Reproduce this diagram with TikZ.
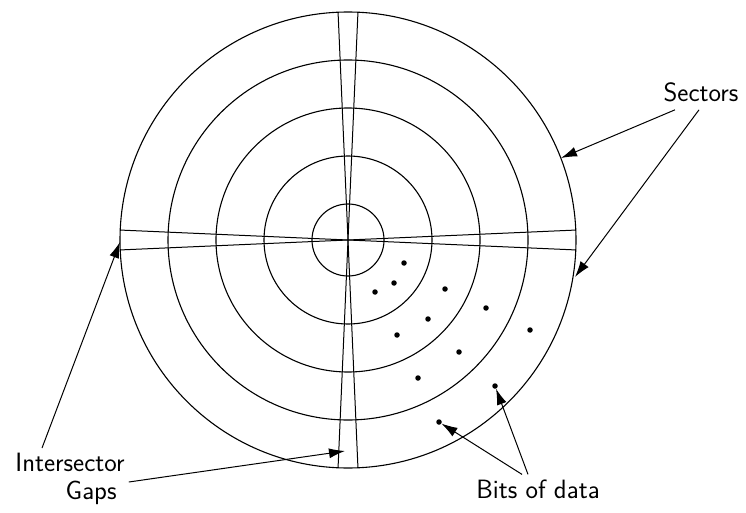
\documentclass[tikz,border=0pt]{standalone}
\usepackage{tikz}
\usetikzlibrary{arrows.meta,calc,positioning}
\tikzset{
  track/.style={draw=black,line width=1.1pt},
  gapline/.style={draw=black,line width=1pt},
  bit/.style={circle,fill=black,inner sep=0pt,minimum size=5.5pt},
  callout/.style={-{Latex[length=16pt,width=10pt]},line width=1pt},
  lab/.style={font=\sffamily\fontsize{26.5}{28}\selectfont,align=center,inner sep=1pt}
}

\begin{document}
\begin{tikzpicture}[x=1pt,y=-1pt]
  \useasboundingbox (0,0) rectangle (746,513);
  \coordinate (ctr) at (348,240);
  % tracks
  \foreach \r in {36,84,132,180,228}
    \draw[track] (ctr) circle[radius=\r];
  % intersector gaps
  \foreach \a in {2.5,-2.5,87.5,92.5}
    \draw[gapline] ($(ctr)+(\a:228)$) -- ($(ctr)+(\a+180:228)$);
  % bits
  \foreach \p [count=\i] in {(404,263),(394,283),(375,292),(445,289),
      (486,308),(428,319),(530,330),(397,335),(459,352),(418,378),
      (495,386),(439,422)}
    \node[bit] (b\i) at \p {};

  \coordinate (sec1) at (561,158);
  \coordinate (sec2) at (575,277);
  \coordinate (gap1) at (120,242);
  \coordinate (gap2) at (345,451);

  \node[lab] (sectors) at (701,92) {Sectors};
  \draw[callout] ($(sectors.south)+(-26,7)$) -- (sec1);
  \draw[callout] ($(sectors.south)+(-2,7)$) -- (sec2);

  \node[lab,align=right] (gaps) at (70,479) {Intersector\\Gaps\hspace*{8pt}};
  \draw[callout] ($(gaps.north)+(-28,-4)$) -- (gap1);
  \draw[callout] ($(gaps.east)+(3,3)$) -- (gap2);

  \node[lab] (bits) at (538,489) {Bits of data};
  \draw[callout] ($(bits.north)+(-16,-4)$) -- (b12);
  \draw[callout] ($(bits.north)+(-10,-4)$) -- (b11);
\end{tikzpicture}
\end{document}
